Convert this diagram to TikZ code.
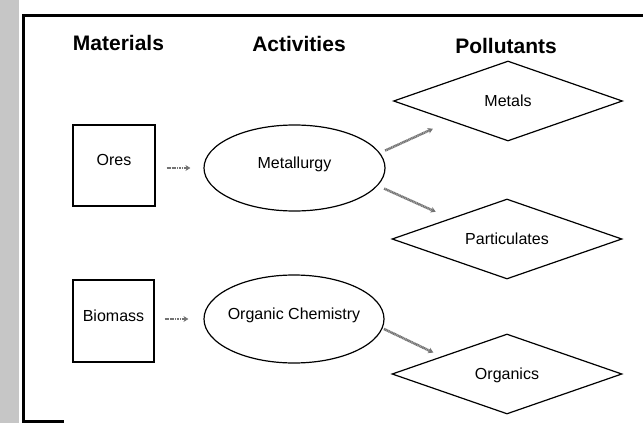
\documentclass[tikz,border=0pt]{standalone}
\usepackage{fontspec}
\setmainfont{Liberation Sans}
\usetikzlibrary{shapes.geometric,arrows.meta}
\tikzset{
  heading/.style={font=\fontsize{21}{24}\selectfont\bfseries, anchor=base, inner sep=0pt},
  body/.style={font=\fontsize{16}{19}\selectfont, inner sep=0pt},
  matbox/.style={body, draw, line width=1.2pt, rectangle, text height=6pt, text depth=6pt},
  actell/.style={body, draw, line width=1.2pt, ellipse, text height=6pt, text depth=6pt},
  poldia/.style={body, draw, line width=1.2pt, diamond, aspect=2.86, text height=11.5pt, text depth=0pt},
  flow/.style={draw=black!55, line width=2.5pt, dash pattern=on 1.2pt off 0.5pt,
    -{Stealth[length=5pt,width=6pt]}},
  frameline/.style={line width=3pt, line cap=rect}
}
\begin{document}
\begin{tikzpicture}[x=1pt,y=-1pt]
\useasboundingbox (0,0) rectangle (643,423);
% scanned margin strip
\fill[gray!45] (0,0) rectangle (19,423);
% frame
\draw[frameline] (643,15.5) -- (23,15.5) -- (23,421) -- (62,421);
% headings
\node[heading] (hmat) at (118.5,50) {Materials};
\node[heading] (hact) at (299,51) {Activities};
\node[heading] (hpol) at (506,53) {Pollutants};
% materials
\node[matbox, minimum width=82pt, minimum height=81pt] (ores) at (114,165.5) {Ores};
\node[matbox, minimum width=81pt, minimum height=82pt] (bio) at (113.5,321) {Biomass};
% activities
\node[actell, minimum width=181pt, minimum height=86pt] (met) at (294.5,168) {\makebox[0pt]{Metallurgy}};
\node[actell, minimum width=180pt, minimum height=88pt] (org) at (294,319) {\makebox[0pt]{Organic Chemistry}};
% pollutants
\node[poldia, minimum width=229pt, minimum height=80pt] (metals) at (508,101) {Metals};
\node[poldia, minimum width=230pt, minimum height=80pt] (part) at (507,239) {Particulates};
\node[poldia, minimum width=230pt, minimum height=80pt] (orgs) at (507,374) {Organics};
% flows
\draw[flow, shorten <=11pt, shorten >=13pt] (ores.east |- met) -- (met.west);
\draw[flow, shorten <=10pt, shorten >=15pt] (bio.east |- org) -- (org.west);
\draw[flow, shorten <=5.6pt, shorten >=18.6pt] (met.10) -- (metals.199);
\draw[flow, shorten <=7pt, shorten >=16pt] (met.348) -- (part.160);
\draw[flow, shorten <=1.5pt, shorten >=9pt] (org.-6) -- (orgs.165);
\end{tikzpicture}
\end{document}
